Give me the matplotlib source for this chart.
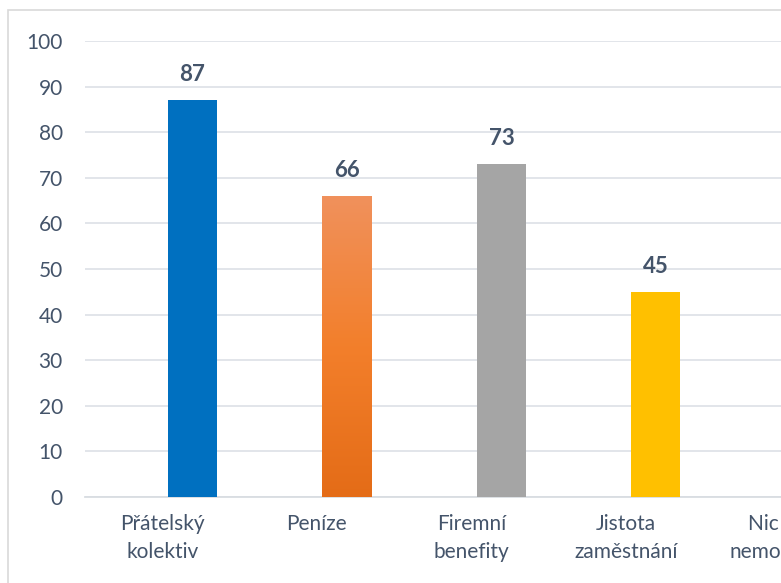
import numpy as np
import matplotlib
matplotlib.use("Agg")
import matplotlib.pyplot as plt
from matplotlib.patches import Rectangle
from matplotlib.colors import LinearSegmentedColormap

# data
categories = ["Přátelský\nkolektiv", "Peníze", "Firemní\nbenefity",
              "Jistota\nzaměstnání", "Nic mě\nnemotivuje"]
values = [87, 66, 73, 45, 10]
colors = ["#0070C0", "#F08A4B", "#A5A5A5", "#FFC000", "#5B9BD5"]
yticks = [0, 10, 20, 30, 40, 50, 60, 70, 80, 90, 100]

TEXT = "#44546A"
GRID = "#DFE3E8"

plt.rcParams["font.family"] = ["Lato", "DejaVu Sans"]

W, H = 781, 583
fig = plt.figure(figsize=(W / 100, H / 100), dpi=100)

# outer chart frame (runs off the right and bottom edges)
fig.patches.append(Rectangle((8 / W, -0.1), 1.2, (H - 10) / H + 0.1,
                             transform=fig.transFigure, fill=False,
                             edgecolor="#D9D9D9", linewidth=1.2))

# plot area is wider than the image, the last category is cut off
left, right = 85, 85 + 5 * 154.5
bottom, top = 497, 41
ax = fig.add_axes([left / W, (H - bottom) / H, (right - left) / W,
                   (bottom - top) / H])

x = np.arange(len(categories))
offset, width = 0.195, 0.318
bars = ax.bar(x + offset, values, width=width, color=colors, zorder=3)

# orange bar has a vertical gradient
grad = LinearSegmentedColormap.from_list("org", ["#E46C17", "#F37F2B", "#F0915C"])
b = bars[1]
img = ax.imshow(np.linspace(0, 1, 256).reshape(-1, 1), cmap=grad, origin="lower",
                aspect="auto", zorder=3.5,
                extent=(b.get_x(), b.get_x() + b.get_width(), 0, b.get_height()))
img.set_clip_path(b)
ax.set_xlim(-0.5, 4.5)
ax.set_ylim(0, 100)

for xi, v in zip(x, values):
    ax.annotate(str(v), (xi + offset, v), xytext=(0, 11), textcoords="offset points",
                ha="center", va="bottom", fontsize=16, fontweight="bold",
                color=TEXT)

ax.set_yticks(yticks)
ax.set_xticks(x)
ax.set_xticklabels(categories)
ax.grid(axis="y", color=GRID, linewidth=1.3, zorder=0)
ax.tick_params(axis="y", length=0, pad=16, labelsize=15, labelcolor=TEXT)
ax.tick_params(axis="x", length=0, pad=12, labelsize=15, labelcolor=TEXT)
for lbl in ax.get_xticklabels():
    lbl.set_linespacing(1.5)
for s in ["top", "right", "left"]:
    ax.spines[s].set_visible(False)
ax.spines["bottom"].set_color("#D9DDE2")
ax.spines["bottom"].set_linewidth(1.3)

fig.savefig("out.png", dpi=100)
